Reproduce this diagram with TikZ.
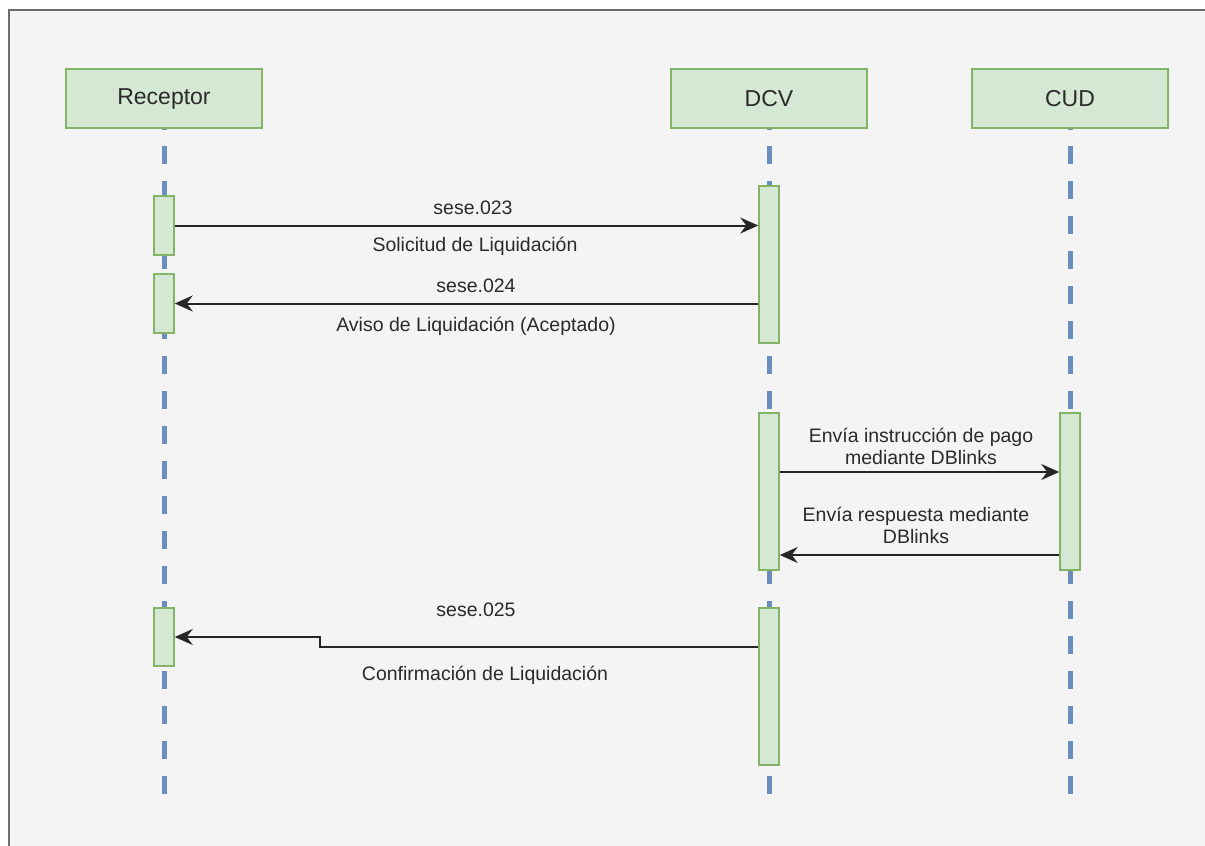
\documentclass[tikz,border=0pt]{standalone}
\usepackage{fontspec}
\setmainfont{Liberation Sans}
\usetikzlibrary{arrows.meta,calc}
\definecolor{boxfill}{HTML}{D5E8D4}
\definecolor{boxline}{HTML}{82B366}
\definecolor{lifeblue}{HTML}{6C8EBF}
\definecolor{bgray}{HTML}{F4F4F4}
\definecolor{frameline}{HTML}{6E6E6E}
\definecolor{txt}{HTML}{2A2A2A}
\begin{document}
\begin{tikzpicture}[x=1pt,y=-1pt,
 header/.style={draw=boxline,fill=boxfill,line width=1.5pt,minimum width=196pt,minimum height=59pt,inner sep=0pt,font=\fontsize{23}{27}\selectfont,text=txt},
 actbar/.style={draw=boxline,fill=boxfill,line width=1.5pt,minimum width=20pt,inner sep=0pt},
 lifeline/.style={draw=lifeblue,line width=5pt,dash pattern=on 18pt off 17pt},
 msg/.style={draw=black!85,line width=2pt,-{Stealth[length=18pt,width=16pt,inset=6pt]}},
 lbl/.style={font=\fontsize{19.5}{22}\selectfont,text=txt,inner sep=0pt,align=center}]
\useasboundingbox (0,0) rectangle (1205,846);
\fill[white] (0,0) rectangle (1205,846);
\begin{scope}
\clip (0,0) rectangle (1205,846);
\draw[frameline,line width=2pt,fill=bgray] (8.5,9.5) rectangle (1215,860);
\end{scope}
% lifeline ends
\coordinate (recend) at (164,794);
\coordinate (dcvend) at (769,794);
\coordinate (cudend) at (1070,794);
% headers
\node[header] (rec) at (164,98.5) {Receptor};
\node[header] (dcv) at (769,98.5) {DCV};
\node[header] (cud) at (1070,98.5) {CUD};
\draw[lifeline] (recend) -- (rec.south);
\draw[lifeline] (dcvend) -- (dcv.south);
\draw[lifeline] (cudend) -- (cud.south);
% activation bars
\node[actbar,minimum height=59pt] (r1) at (164,225.5) {};
\node[actbar,minimum height=59pt] (r2) at (164,303.5) {};
\node[actbar,minimum height=58pt] (r3) at (164,637) {};
\node[actbar,minimum height=157pt] (d1) at (769,264.5) {};
\node[actbar,minimum height=157pt] (d2) at (769,491.5) {};
\node[actbar,minimum height=157pt] (d3) at (769,686.5) {};
\node[actbar,minimum height=157pt] (c1) at (1070,491.5) {};
% messages
\draw[msg] (r1.east) -- (r1.east -| d1.west);
\draw[msg] (r2.east -| d1.west) -- (r2.east);
\coordinate (m3) at (0,472);
\coordinate (m4) at (0,555);
\coordinate (m5) at (320,647);
\draw[msg] (d2.east |- m3) -- (c1.west |- m3);
\draw[msg] (c1.west |- m4) -- (d2.east |- m4);
\draw[msg] (d3.west |- m5) -- (m5) -- (m5 |- r3.east) -- (r3.east);
% labels
\node[lbl] (l1a) at (473,208) {sese.023};
\node[lbl] (l1b) at (475,246) {Solicitud de Liquidación};
\node[lbl] (l2a) at (476,286) {sese.024};
\node[lbl] (l2b) at (476,326) {Aviso de Liquidación (Aceptado)};
\node[lbl] (l3) at (921,446) {Envía instrucción de pago\\mediante DBlinks};
\node[lbl] (l4) at (916,525) {Envía respuesta mediante\\DBlinks};
\node[lbl] (l5a) at (476,610) {sese.025};
\node[lbl] (l5b) at (485,675) {Confirmación de Liquidación};
\end{tikzpicture}
\end{document}
